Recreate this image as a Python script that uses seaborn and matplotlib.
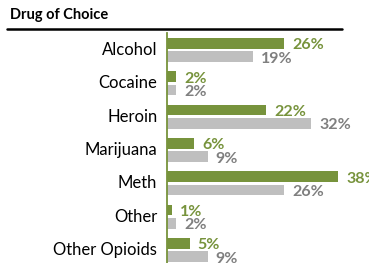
import matplotlib
matplotlib.use("Agg")
import matplotlib.pyplot as plt
import seaborn as sns
import pandas as pd
from matplotlib.lines import Line2D

categories = ["Alcohol", "Cocaine", "Heroin", "Marijuana", "Meth", "Other", "Other Opioids"]
series_a = [26, 2, 22, 6, 38, 1, 5]
series_b = [19, 2, 32, 9, 26, 2, 9]
series_names = ["Group A", "Group B"]
title = "Drug of Choice"

GREEN = "#77933C"
GRAY_BAR = "#BFBFBF"
GRAY_TXT = "#7F7F7F"

sns.set_theme(style="white")
plt.rcParams["font.family"] = ["Lato", "DejaVu Sans"]

df = pd.DataFrame({
    "category": categories * 2,
    "value": series_a + series_b,
    "series": [series_names[0]] * len(categories) + [series_names[1]] * len(categories),
})

W, H = 369, 263
fig = plt.figure(figsize=(W / 100, H / 100), dpi=100)
left_px, top_px, bottom_px = 167, 33.3, 266.7
ax = fig.add_axes([left_px / W, 1 - bottom_px / H, (W - left_px) / W, (bottom_px - top_px) / H])

sns.barplot(data=df, y="category", x="value", hue="series", orient="h",
            palette=[GREEN, GRAY_BAR], width=0.8, gap=0.2, ax=ax,
            legend=False, saturation=1, edgecolor="none")

ax.set_xlim(0, (W - left_px) / 4.5)
ax.set_ylim(len(categories) - 0.5, -0.5)
ax.set_xlabel("")
ax.set_ylabel("")
ax.set_xticks([])
for s in ["top", "right", "bottom"]:
    ax.spines[s].set_visible(False)
ax.spines["left"].set_color(GREEN)
ax.spines["left"].set_linewidth(1.3)
ax.tick_params(axis="y", length=0, pad=7, labelsize=12, labelcolor="#000000")
for lbl in ax.get_yticklabels():
    lbl.set_verticalalignment("center")

for container, color in zip(ax.containers, [GREEN, GRAY_TXT]):
    for bar in container:
        val = bar.get_width()
        y = bar.get_y() + bar.get_height() / 2
        ax.annotate(f"{val:.0f}%", xy=(val, y), xytext=(8, -2), textcoords="offset pixels",
                    ha="left", va="center", fontsize=11.5, fontweight="bold",
                    color=color, annotation_clip=False, clip_on=False)

fig.text(10 / W, 1 - 15 / H, title, ha="left", va="center", fontsize=10.5, fontweight="bold", color="#000000")
fig.add_artist(Line2D([7 / W, 342 / W], [1 - 29 / H, 1 - 29 / H], color="black", linewidth=1.8,
                      transform=fig.transFigure))

fig.savefig("out.png", dpi=100)
